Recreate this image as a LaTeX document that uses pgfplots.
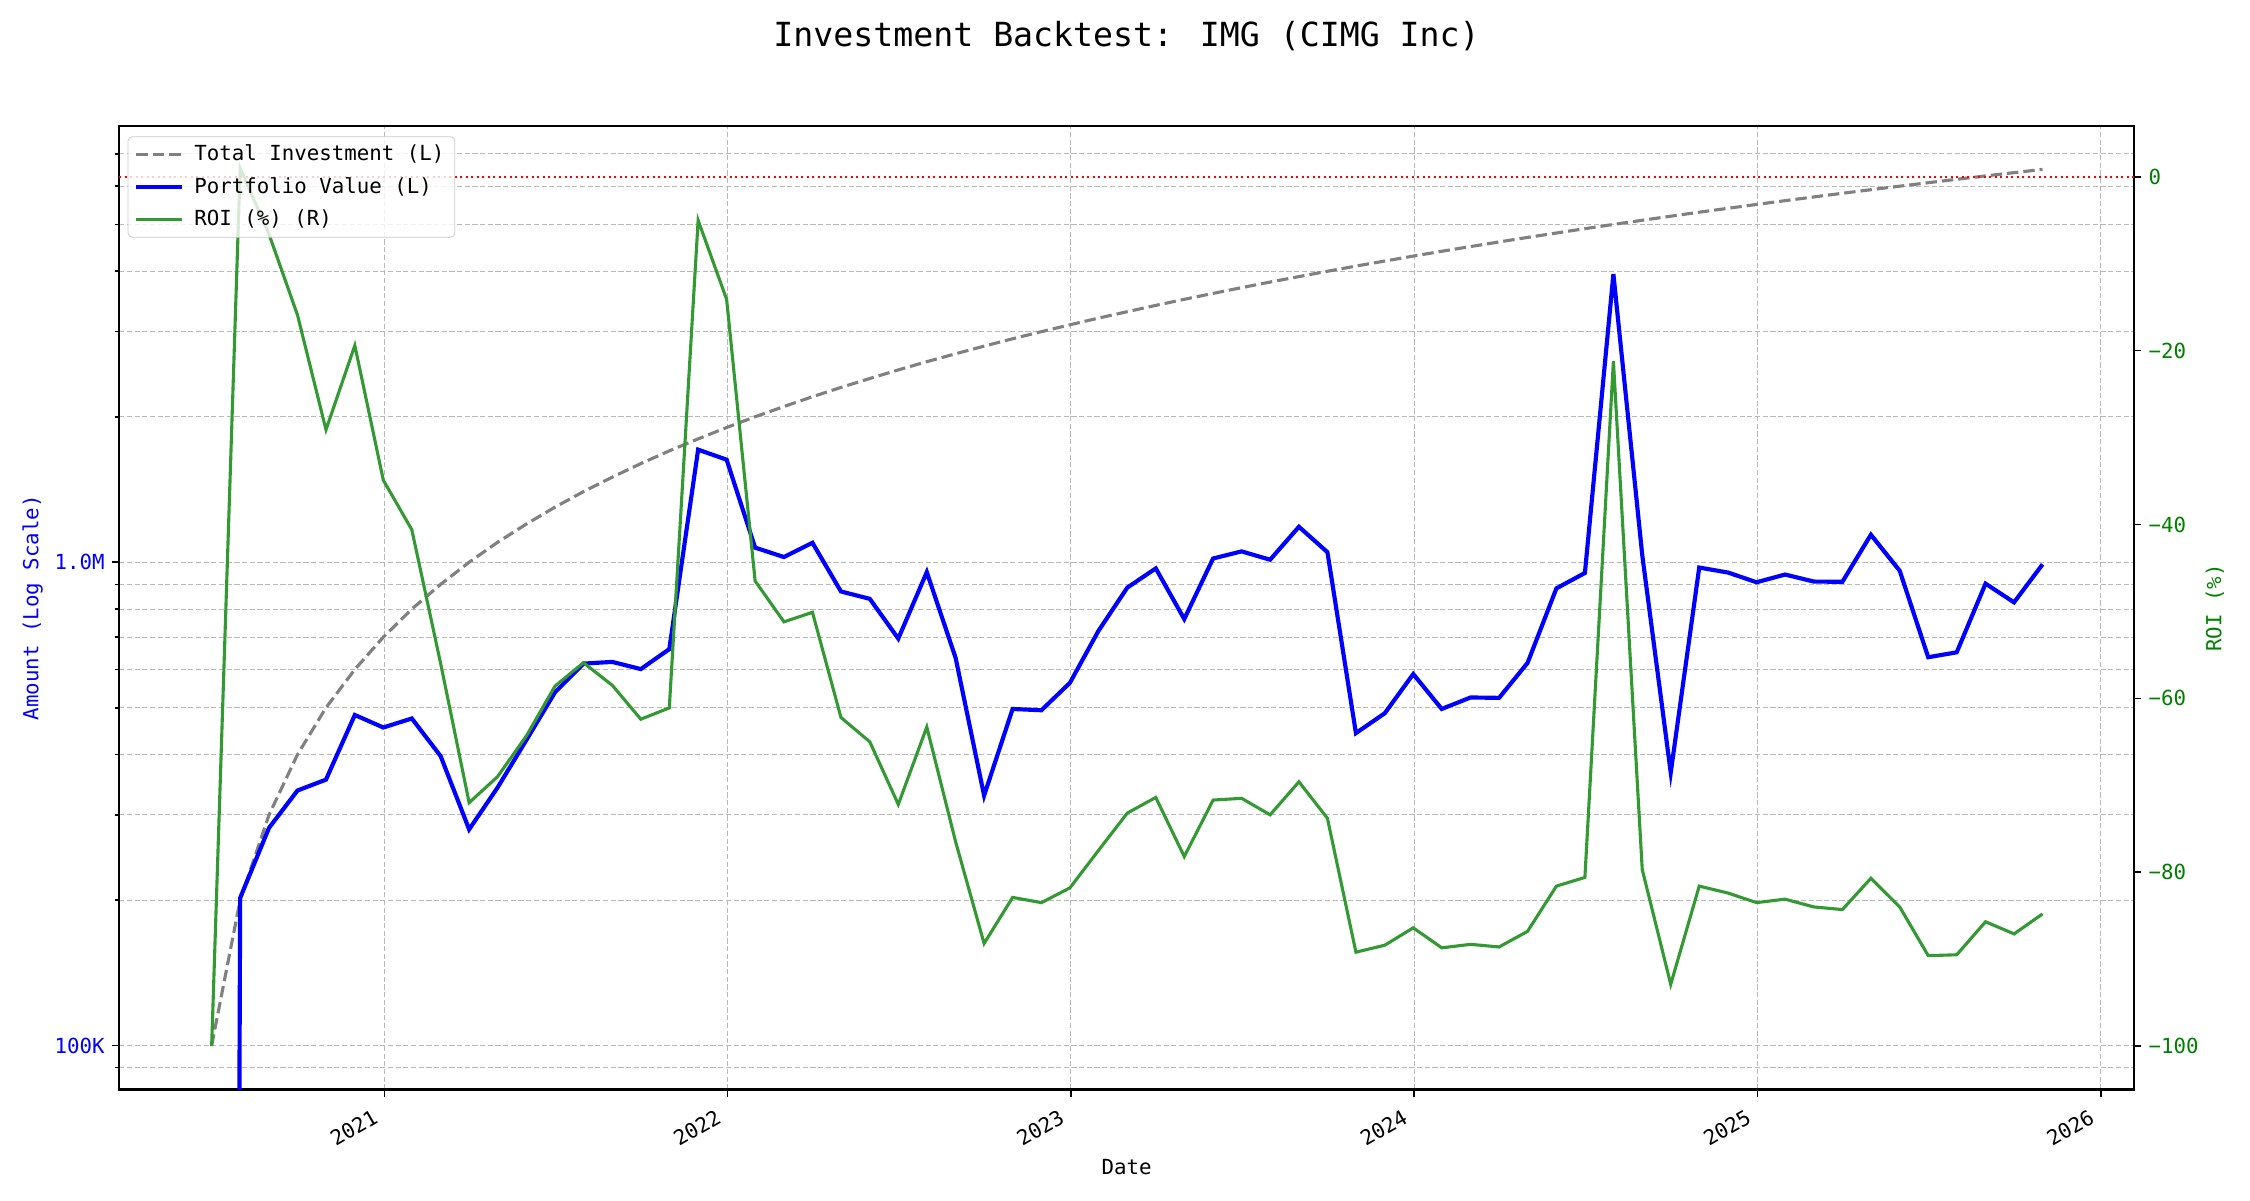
\documentclass[border=0pt]{standalone}
\usepackage{fontspec}
\setmainfont{DejaVu Sans Mono}
\usepackage{pgfplots}
\pgfplotsset{compat=1.18}
\usepackage{pgfplotstable}
\definecolor{roigreen}{RGB}{51,153,51}
\definecolor{darkgreen}{RGB}{0,128,0}
\definecolor{gridgray}{RGB}{185,185,185}
\definecolor{legframe}{RGB}{204,204,204}
\definecolor{invgray}{RGB}{128,128,128}

\pgfplotstableread{
x inv val roi
2020.497 100000 1e-10 -100.0
2020.580 200000 202000 1.0
2020.664 300000 282000 -6.6
2020.747 400000 337000 -15.9
2020.830 500000 355000 -29.1
2020.914 600000 483000 -19.4
2020.997 700000 455000 -34.9
2021.080 800000 475000 -40.6
2021.164 900000 397000 -56.0
2021.247 1000000 280000 -72.0
2021.330 1100000 342000 -69.0
2021.414 1200000 429000 -64.3
2021.497 1300000 538000 -58.6
2021.580 1400000 617000 -55.9
2021.664 1500000 622000 -58.5
2021.747 1600000 601000 -62.4
2021.830 1700000 661000 -61.1
2021.914 1800000 1710000 -5.0
2021.997 1900000 1630000 -14.1
2022.080 2000000 1072000 -46.5
2022.164 2100000 1025000 -51.2
2022.247 2200000 1097000 -50.1
2022.330 2300000 870000 -62.2
2022.414 2400000 840000 -65.0
2022.497 2500000 695000 -72.2
2022.580 2600000 954000 -63.3
2022.664 2700000 634000 -76.5
2022.747 2800000 329000 -88.2
2022.830 2900000 497000 -82.9
2022.914 3000000 494000 -83.5
2022.997 3100000 563000 -81.8
2023.080 3200000 721000 -77.5
2023.164 3300000 886000 -73.2
2023.247 3400000 971000 -71.4
2023.330 3500000 763000 -78.2
2023.414 3600000 1018000 -71.7
2023.497 3700000 1053000 -71.5
2023.580 3800000 1012000 -73.4
2023.664 3900000 1184000 -69.6
2023.747 4000000 1049000 -73.8
2023.830 4100000 443000 -89.2
2023.914 4200000 487000 -88.4
2023.997 4300000 587000 -86.4
2024.080 4400000 497000 -88.7
2024.164 4500000 525000 -88.3
2024.247 4600000 524000 -88.6
2024.330 4700000 619000 -86.8
2024.414 4800000 883000 -81.6
2024.497 4900000 950000 -80.6
2024.580 5000000 3945000 -21.2
2024.664 5100000 1035000 -79.7
2024.747 5200000 367000 -92.9
2024.830 5300000 975000 -81.6
2024.914 5400000 952000 -82.4
2024.997 5500000 909000 -83.5
2025.080 5600000 943000 -83.1
2025.164 5700000 912000 -84.0
2025.247 5800000 911000 -84.3
2025.330 5900000 1140000 -80.7
2025.414 6000000 960000 -84.0
2025.497 6100000 636000 -89.6
2025.580 6200000 651000 -89.5
2025.664 6300000 903000 -85.7
2025.747 6400000 826000 -87.1
2025.830 6500000 990000 -84.8
}\datatable

\begin{document}
\begin{tikzpicture}[font=\fontsize{10}{12}\selectfont]
\path[use as bounding box] (-57.4pt,-53.4pt) rectangle (1026.6pt,524.9pt);
\begin{axis}[
  scale only axis, width=970.7pt, height=464pt,
  at={(0,0)}, anchor=south west,
  xmin=2020.2275, xmax=2026.0964,
  ymode=log, ymin=81100, ymax=7980000,
  xtick={2021,2022,2023,2024,2025,2026},
  xticklabels={2021,2022,2023,2024,2025,2026},
  xticklabel style={xshift=-5.8pt, yshift=-4pt, rotate=30, anchor=north east, inner sep=1pt},
  ytick={100000,1000000}, yticklabels={100K,1.0M},
  minor ytick={90000,200000,300000,400000,500000,600000,700000,800000,900000,2000000,3000000,4000000,5000000,6000000,7000000},
  yticklabel style={text=blue},
  tick pos=left,
  tick align=outside,
  major tick length=3.5pt, minor tick length=2pt,
  every tick/.style={black, line width=0.8pt},
  axis line style={line width=1pt},
  grid=both,
  major grid style={gridgray, dash pattern=on 2.5pt off 1.2pt, line width=0.5pt},
  minor grid style={gridgray, dash pattern=on 2.5pt off 1.2pt, line width=0.5pt},
  xlabel={Date},
  xlabel style={at={(rel axis cs:0.5,-0.0804)}, anchor=center},
  ylabel={Amount (Log Scale)},
  ylabel style={text=blue, at={(rel axis cs:-0.04296,0.5)}, anchor=center},
]
\addplot[invgray, line width=1.5pt, dash pattern=on 5.5pt off 2.4pt] table[x=x, y=inv]{\datatable};
\addplot[blue, line width=2pt] table[x=x, y=val]{\datatable};
\end{axis}
\begin{axis}[
  scale only axis, width=970.7pt, height=464pt,
  at={(0,0)}, anchor=south west,
  xmin=2020.2275, xmax=2026.0964,
  ymin=-105, ymax=5.8,
  axis x line=none, axis y line*=right,
  ytick={-100,-80,-60,-40,-20,0},
  yticklabels={−100,−80,−60,−40,−20,0},
  yticklabel style={text=darkgreen},
  tick align=outside,
  major tick length=3.5pt,
  every tick/.style={black, line width=0.8pt},
  axis line style={line width=1pt},
  ylabel={ROI (\%)},
  ylabel style={text=darkgreen, at={(rel axis cs:1.0401,0.5)}, anchor=center},
  legend cell align=left,
  legend image code/.code={\draw[#1] (0pt,0pt) -- (22pt,0pt);},
  legend style={at={(rel axis cs:0,1)}, anchor=north west, xshift=4.1pt, yshift=-4.8pt,
    draw=legframe, rounded corners=2pt, fill=white, fill opacity=0.8, draw opacity=1, text opacity=1,
    row sep=2.5pt, column sep=3pt, inner xsep=3pt, inner ysep=2pt, font=\fontsize{10}{12}\selectfont},
]
\addlegendimage{invgray, line width=1.5pt, dash pattern=on 5.5pt off 2.4pt}
\addlegendentry{Total Investment (L)}
\addlegendimage{blue, line width=2pt}
\addlegendentry{Portfolio Value (L)}
\addplot[roigreen, line width=1.5pt] table[x=x, y=roi]{\datatable};
\addlegendentry{ROI (\%) (R)}
\addplot[red, line width=1pt, dash pattern=on 1pt off 1.65pt, forget plot] coordinates {(2020.2275,0) (2026.0964,0)};
\end{axis}
\node[font=\fontsize{16}{19}\selectfont] at (485.35pt,507.5pt) {Investment Backtest: IMG (CIMG Inc)};
\end{tikzpicture}
\end{document}
